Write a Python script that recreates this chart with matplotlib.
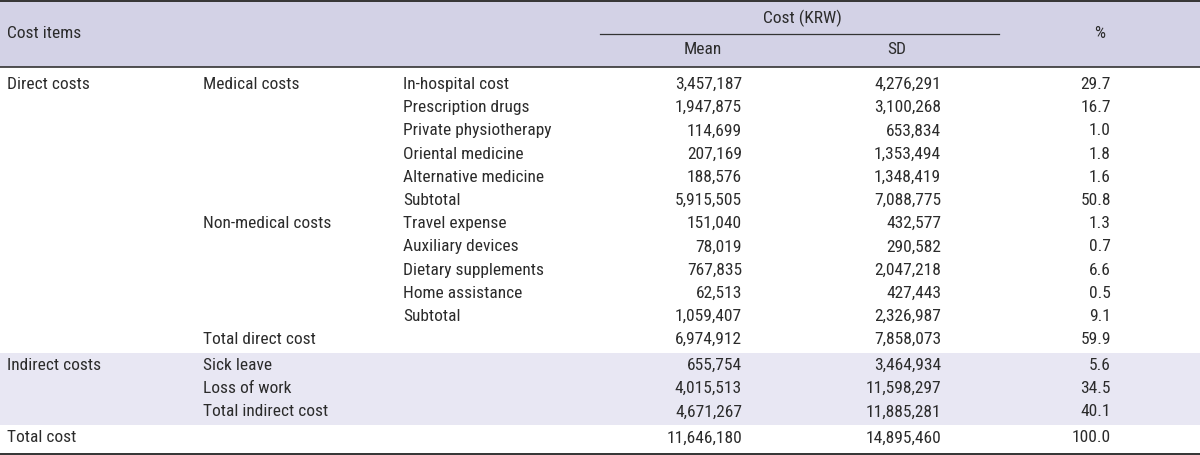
import matplotlib
matplotlib.use("Agg")
import matplotlib.pyplot as plt
from matplotlib import font_manager as fm

# ---- data ----
level1 = ["Direct costs", "", "", "", "", "", "", "", "", "", "", "",
          "Indirect costs", "", "", "Total cost"]
level2 = ["Medical costs", "", "", "", "", "", "Non-medical costs", "", "", "", "",
          "Total direct cost", "Sick leave", "Loss of work", "Total indirect cost", ""]
level3 = ["In-hospital cost", "Prescription drugs", "Private physiotherapy",
          "Oriental medicine", "Alternative medicine", "Subtotal",
          "Travel expense", "Auxiliary devices", "Dietary supplements",
          "Home assistance", "Subtotal", "", "", "", "", ""]
mean_vals = ["3,457,187", "1,947,875", "114,699", "207,169", "188,576", "5,915,505",
             "151,040", "78,019", "767,835", "62,513", "1,059,407", "6,974,912",
             "655,754", "4,015,513", "4,671,267", "11,646,180"]
sd_vals = ["4,276,291", "3,100,268", "653,834", "1,353,494", "1,348,419", "7,088,775",
           "432,577", "290,582", "2,047,218", "427,443", "2,326,987", "7,858,073",
           "3,464,934", "11,598,297", "11,885,281", "14,895,460"]
pct_vals = ["29.7", "16.7", "1.0", "1.8", "1.6", "50.8", "1.3", "0.7", "6.6", "0.5",
            "9.1", "59.9", "5.6", "34.5", "40.1", "100.0"]
header_items = "Cost items"
header_group = "Cost (KRW)"
header_mean = "Mean"
header_sd = "SD"
header_pct = "%"

# ---- font ----
names = {f.name for f in fm.fontManager.ttflist}
family = "Roboto"
fs = 11.5
for cand in ["Roboto Condensed", "Liberation Sans Narrow", "Open Sans Condensed"]:
    if cand in names:
        family = cand
        fs = 12.5
        break
plt.rcParams["font.family"] = [family, "DejaVu Sans"]

W, H = 1200, 455
fig = plt.figure(figsize=(W / 100, H / 100), dpi=100)
ax = fig.add_axes([0, 0, 1, 1])
ax.set_xlim(0, W)
ax.set_ylim(H, 0)
ax.axis("off")

txt = "#2b2b2b"
line = "#333333"

# header
ax.add_patch(plt.Rectangle((0, 1), W, 65.5, color="#d3d2e6", lw=0, zorder=0))
ax.plot([0, W], [1, 1], color=line, lw=1.4)
ax.plot([0, W], [66.5, 66.5], color=line, lw=1.2)
ax.plot([600, 999], [33.5, 33.5], color=line, lw=0.9)
ax.text(7, 33, header_items, fontsize=fs, color=txt, ha="left", va="center")
ax.text(802, 18, header_group, fontsize=fs, color=txt, ha="center", va="center")
ax.text(703, 50, header_mean, fontsize=fs, color=txt, ha="center", va="center")
ax.text(897, 50, header_sd, fontsize=fs, color=txt, ha="center", va="center")
ax.text(1100, 33, header_pct, fontsize=fs, color=txt, ha="center", va="center")

# row positions
ys = [84.5 + 23.2 * k for k in range(12)] + [365, 388.5, 412, 438]

# shading for indirect rows
ax.add_patch(plt.Rectangle((0, 352.5), W, 72.5, color="#e8e7f3", lw=0, zorder=0))

for i, y in enumerate(ys):
    ax.text(7, y, level1[i], fontsize=fs, color=txt, ha="left", va="center")
    ax.text(203, y, level2[i], fontsize=fs, color=txt, ha="left", va="center")
    ax.text(403, y, level3[i], fontsize=fs, color=txt, ha="left", va="center")
    ax.text(742, y, mean_vals[i], fontsize=fs, color=txt, ha="right", va="center")
    ax.text(941, y, sd_vals[i], fontsize=fs, color=txt, ha="right", va="center")
    ax.text(1111, y, pct_vals[i], fontsize=fs, color=txt, ha="right", va="center")

ax.plot([0, W], [454, 454], color=line, lw=1.4)

fig.savefig("out.png", dpi=100)
